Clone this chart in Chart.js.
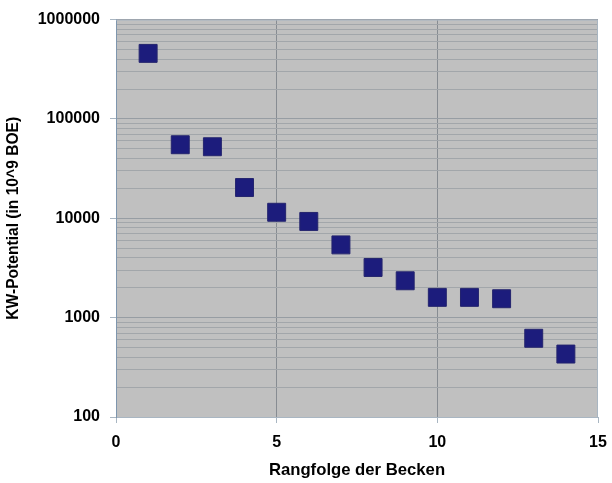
<!DOCTYPE html>
<html>
<head>
<meta charset="utf-8">
<script src="https://cdn.jsdelivr.net/npm/chart.js@4/dist/chart.umd.min.js"></script>
<style>
  html, body { margin: 0; padding: 0; background: #ffffff; }
  #wrap { width: 612px; height: 483px; }
</style>
</head>
<body>
<div id="wrap"><canvas id="c" width="612" height="483"></canvas></div>
<script>
// Basin rank and hydrocarbon potential (10^9 BOE)
const ranks = [1, 2, 3, 4, 5, 6, 7, 8, 9, 10, 11, 12, 13, 14];
const potentials = [457000, 55000, 52500, 20400, 11500, 9300, 5400, 3200, 2350, 1600, 1600, 1550, 620, 430];

// Axis ticks
const xTicks = [0, 5, 10, 15];
const yDecades = [100, 1000, 10000, 100000, 1000000];
const yMinorSteps = [2, 3, 4, 5, 6, 7, 8, 9];

const yTickValues = [];
yDecades.forEach((d, i) => {
  yTickValues.push(d);
  if (i < yDecades.length - 1) yMinorSteps.forEach(m => yTickValues.push(d * m));
});

const plotBackground = {
  id: 'plotBackground',
  beforeDraw(chart) {
    const { ctx, chartArea: a } = chart;
    ctx.save();
    ctx.fillStyle = '#c0c0c0';
    ctx.fillRect(a.left, a.top, a.right - a.left, a.bottom - a.top);
    ctx.restore();
  },
  afterDatasetsDraw(chart) {
    const { ctx, chartArea: a } = chart;
    ctx.save();
    ctx.strokeStyle = '#a9b6c2';
    ctx.lineWidth = 1;
    ctx.beginPath();
    ctx.moveTo(a.left, a.top + 0.5);
    ctx.lineTo(a.right - 0.5, a.top + 0.5);
    ctx.lineTo(a.right - 0.5, a.bottom);
    ctx.stroke();
    ctx.restore();
  }
};

const font = { family: '"Liberation Sans", Arial, sans-serif', weight: 'bold' };

new Chart(document.getElementById('c'), {
  type: 'scatter',
  data: {
    datasets: [{
      data: ranks.map((r, i) => ({ x: r, y: potentials[i] })),
      pointStyle: 'rect',
      pointRadius: 12.7,
      pointHoverRadius: 12.7,
      backgroundColor: '#1c1c7c',
      borderColor: '#24246e',
      borderWidth: 1
    }]
  },
  options: {
    responsive: false,
    animation: false,
    events: [],
    layout: { padding: { top: 17, right: 14, bottom: 0, left: 0 } },
    plugins: { legend: { display: false }, tooltip: { enabled: false } },
    scales: {
      x: {
        type: 'linear',
        min: 0,
        max: 15,
        afterBuildTicks(scale) { scale.ticks = xTicks.map(v => ({ value: v })); },
        afterFit(scale) {
          scale.height = 66;
          scale.paddingLeft = 0;
          scale.paddingRight = 0;
        },
        ticks: { color: '#000', font: { ...font, size: 16 }, padding: 10, autoSkip: false },
        grid: {
          color: ctx => (ctx.tick && (ctx.tick.value === 0 || ctx.tick.value === 15)) ? 'rgba(0,0,0,0)' : '#878c92',
          tickColor: '#a9b6c2',
          tickLength: 6,
          lineWidth: 1
        },
        border: { display: true, color: '#a9b6c2' },
        title: {
          display: true,
          text: 'Rangfolge der Becken',
          color: '#000',
          font: { ...font, size: 16.7 },
          padding: { top: 0, bottom: 3 }
        }
      },
      y: {
        type: 'logarithmic',
        min: 100,
        max: 1000000,
        afterBuildTicks(scale) { scale.ticks = yTickValues.map(v => ({ value: v })); },
        afterFit(scale) { scale.width = 116; },
        ticks: {
          color: '#000',
          font: { ...font, size: 16 },
          padding: 10,
          autoSkip: false,
          callback: v => yDecades.includes(v) ? String(v) : ''
        },
        grid: {
          color: ctx => (ctx.tick && yDecades.includes(ctx.tick.value)) ? '#979da3' : '#a2a6aa',
          tickColor: ctx => (ctx.tick && yDecades.includes(ctx.tick.value)) ? '#a9b6c2' : 'rgba(0,0,0,0)',
          tickLength: 6,
          lineWidth: 1
        },
        border: { display: true, color: '#7e96ae' },
        title: {
          display: true,
          text: 'KW-Potential (in 10^9 BOE)',
          color: '#000',
          font: { ...font, size: 15.6 },
          padding: { top: 4, bottom: 0 }
        }
      }
    }
  },
  plugins: [plotBackground]
});
</script>
</body>
</html>
